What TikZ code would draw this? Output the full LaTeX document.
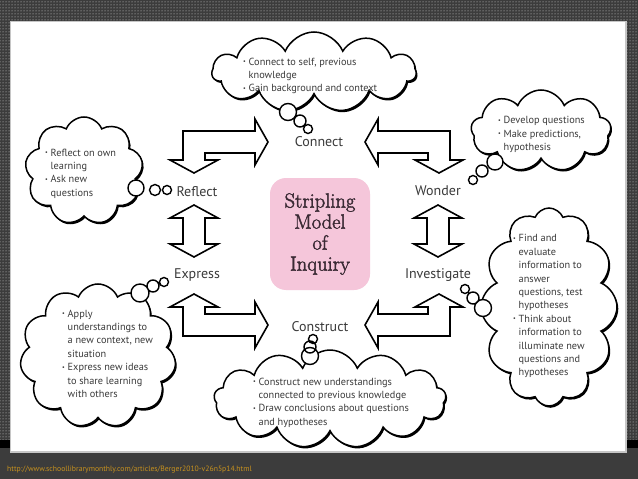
\documentclass[tikz,border=0pt]{standalone}
\usepackage{fontspec}
\setmainfont{PT Sans}
\newfontfamily\boxfont[FakeBold=2]{Latin Modern Roman}
\usetikzlibrary{shapes.symbols,shadows,patterns}
\definecolor{bgdark}{HTML}{3C3C3C}
\definecolor{txtgray}{HTML}{3A3A3A}
\definecolor{pinkbox}{HTML}{F5C6DA}
\definecolor{boxtext}{HTML}{3A2A34}
\definecolor{urlorange}{HTML}{C8921E}
\newcommand{\bul}{\makebox[5.5pt][l]{\raisebox{1.6pt}{\fontsize{6}{6}\selectfont •}}}
\newcommand{\ind}{\hspace*{5.5pt}}
\newcommand{\bentpath}{(-133.5,-102.5) -- (-61.5,-102.5) -- (-61.5,-114.5) -- (-48.5,-91.5) -- (-61.5,-68.5) -- (-61.5,-80.5) -- (-111.5,-80.5) -- (-111.5,-73.5) -- (-98.5,-73.5) -- (-122.5,-60.5) -- (-146.5,-73.5) -- (-133.5,-73.5) -- cycle}
\begin{document}
\begin{tikzpicture}[x=1pt,y=-1pt,
  lbl/.style={font=\fontsize{14}{16}\selectfont, text=txtgray, inner sep=0},
  ctext/.style={font=\fontsize{10.3}{13.4}\selectfont, text=txtgray, align=left, inner sep=0, anchor=north west},
  cloudbox/.style={cloud, cloud ignores aspect, cloud puff arc=135, draw=black, fill=white, line width=1.5, inner sep=0,
     drop shadow={shadow xshift=1.3pt, shadow yshift=-1.8pt, fill=black, opacity=1}},
  bub/.style={draw=black, fill=white, line width=1.4},
  blk/.style={draw=black, fill=white, line width=1.6, line join=miter}]
\useasboundingbox (0,0) rectangle (638,479);
% background
\fill[bgdark] (0,0) rectangle (638,479);
\fill[pattern=dots, pattern color=white!75!gray] (0,0) rectangle (638,440);
\fill[black] (0,440) rectangle (638,448);
\fill[bgdark] (0,448) rectangle (638,479);
\draw[fill=white, draw=gray!45, line width=1.5] (10.5,21.5) rectangle (626,452);
\node[anchor=west, inner sep=0, text=urlorange, font=\fontsize{7.7}{8}\selectfont] (url) at (7,470) {http://www.schoollibrarymonthly.com/articles/Berger2010-v26n5p14.html};

% center box
\node[draw=none, fill=pinkbox, rounded corners=16pt, minimum width=100pt, minimum height=112pt,
  align=center, text=boxtext, font=\boxfont\fontsize{20.5}{21}\selectfont, inner sep=0] (center) at (320,234)
  {Stripling\\Model\\of\\Inquiry};

% block arrows
\draw[blk, shift={(316.5,233.5)}] \bentpath;
\draw[blk, shift={(316.5,233.5)}, xscale=-1] \bentpath;
\draw[blk, shift={(316.5,233.5)}, yscale=-1] \bentpath;
\draw[blk, shift={(316.5,233.5)}, xscale=-1, yscale=-1] \bentpath;
\foreach \cx in {194,438}{
 \draw[blk] (\cx-11,218) -- (\cx-24,218) -- (\cx,205) -- (\cx+24,218) -- (\cx+11,218) -- (\cx+11,244)
   -- (\cx+24,244) -- (\cx,257) -- (\cx-24,244) -- (\cx-11,244) -- cycle;
}

% labels
\node[lbl] (connect) at (319,142) {Connect};
\node[lbl] (reflect) at (197,192) {Reflect};
\node[lbl] (wonder) at (438,191) {Wonder};
\node[lbl] (express) at (197,275) {Express};
\node[lbl] (investigate) at (438,275) {Investigate};
\node[lbl] (construct) at (320,327) {Construct};

% clouds
\node[cloudbox, cloud puffs=11, minimum width=204pt, minimum height=80pt] (cl1) at (314,72) {};
\node[cloudbox, cloud puffs=9, minimum width=140pt, minimum height=82pt] (cl2) at (541,131) {};
\node[cloudbox, cloud puffs=9, minimum width=118pt, minimum height=108pt] (cl3) at (84,171) {};
\node[cloudbox, cloud puffs=11, minimum width=156pt, minimum height=144pt] (cl4) at (98,356) {};
\node[cloudbox, cloud puffs=12, minimum width=136pt, minimum height=198pt] (cl5) at (549,307) {};
\node[cloudbox, cloud puffs=13, minimum width=232pt, minimum height=98pt] (cl6) at (330,399) {};

% bubbles
\draw[bub] (288,112) circle (8.5) (300,121) circle (6) (308,129) circle (4.5);
\draw[bub] (495,162) circle (8) (482,171) circle (6) (473,180) circle (4.5);
\draw[bub] (136,188) circle (8) (155,190) circle (5.5) (167,190) circle (4.5);
\draw[bub] (140,293) circle (9) (153,286) circle (6) (164,282) circle (4.5);
\draw[bub] (483,308) circle (8.5) (473,298) circle (6) (465,289) circle (4.5);
\draw[bub] (310,356) circle (8.5) (310,347) circle (6) (313,339) circle (4.5);

% cloud texts
\node[ctext] (t1) at (243,57.5) {\bul Connect to self, previous\\\ind knowledge\\\bul Gain background and context};
\node[ctext] (t2) at (498,116.5) {\bul Develop questions\\\bul Make predictions,\\\ind hypothesis};
\node[ctext] (t3) at (45,148.5) {\bul Reflect on own\\\ind learning\\\bul Ask new\\\ind questions};
\node[ctext] (t4) at (62,309.5) {\bul Apply\\\ind understandings to\\\ind a new context, new\\\ind situation\\\bul Express new ideas\\\ind to share learning\\\ind with others};
\node[ctext] (t5) at (513,234.5) {\bul Find and\\\ind evaluate\\\ind information to\\\ind answer\\\ind questions, test\\\ind hypotheses\\\bul Think about\\\ind information to\\\ind illuminate new\\\ind questions and\\\ind hypotheses};
\node[ctext] (t6) at (253,377.5) {\bul Construct new understandings\\\ind connected to previous knowledge\\\bul Draw conclusions about questions\\\ind and hypotheses};
\end{tikzpicture}
\end{document}
